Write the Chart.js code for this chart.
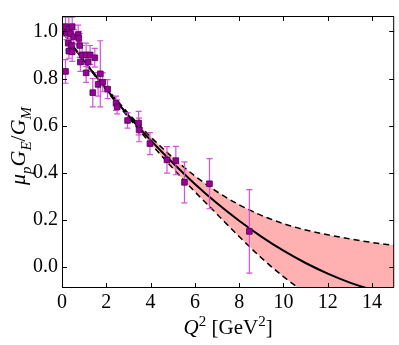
<!DOCTYPE html>
<html>
<head>
<meta charset="utf-8">
<script src="https://cdn.jsdelivr.net/npm/chart.js@4.4.0/dist/chart.umd.min.js"></script>
<style>
html, body { margin: 0; padding: 0; background: #fff; }
</style>
</head>
<body>
<canvas id="graphe" width="399" height="345"></canvas>
<script>
var q2 = [0.16, 0.16, 0.2, 0.28, 0.31, 0.31, 0.38, 0.43, 0.46, 0.46, 0.53, 0.73, 0.76, 0.8, 0.83, 0.91,
          1.09, 1.09, 1.18, 1.27, 1.39, 1.48, 1.63, 1.73, 1.84, 2.06, 2.44, 2.49, 2.96, 3.46, 3.48, 3.97,
          4.74, 5.14, 5.53, 6.66, 8.46];
var ratio = [1.02, 0.83, 0.995, 0.95, 1.01, 0.916, 0.99, 0.94, 1.02, 0.913, 0.977, 0.986, 0.97, 0.94, 0.87, 0.90,
             0.90, 0.824, 0.87, 0.90, 0.74, 0.888, 0.775, 0.82, 0.784, 0.755, 0.695, 0.68, 0.622, 0.611, 0.582, 0.524,
             0.455, 0.452, 0.36, 0.354, 0.152];
var ratioErr = [0.04, 0.05, 0.03, 0.03, 0.05, 0.03, 0.03, 0.03, 0.04, 0.04, 0.03, 0.04, 0.03, 0.05, 0.04, 0.04,
                0.05, 0.04, 0.04, 0.04, 0.06, 0.04, 0.05, 0.14, 0.04, 0.04, 0.03, 0.03, 0.032, 0.05, 0.05, 0.047,
                0.056, 0.06, 0.087, 0.106, 0.177];

// fit curve and its band
var fitQ2 = [0, 1, 2, 3, 4, 5, 6, 7, 8, 9, 10, 11, 12, 13, 14, 15];
var fitCentral = [1.0, 0.874, 0.755, 0.643, 0.539, 0.443, 0.353, 0.271, 0.197, 0.130, 0.070, 0.018, -0.027, -0.065, -0.095, -0.118];
var fitUpper = [1.0, 0.876, 0.76, 0.652, 0.553, 0.465, 0.387, 0.32, 0.265, 0.22, 0.185, 0.158, 0.138, 0.12, 0.105, 0.092];
var fitLower = [1.0, 0.872, 0.75, 0.635, 0.525, 0.42, 0.32, 0.225, 0.13, 0.04, -0.04, -0.11, -0.18, -0.24, -0.3, -0.35];

var xTicks = [0, 2, 4, 6, 8, 10, 12, 14];
var yTicks = [0.0, 0.2, 0.4, 0.6, 0.8, 1.0];

var serif = '"Liberation Serif", "DejaVu Serif", serif';

function pts(xs, ys) {
    var out = [];
    for (var i = 0; i < xs.length; i++) out.push({x: xs[i], y: ys[i]});
    return out;
}

// error bars drawn just under the points
var errorBars = {
    id: 'errorBars',
    beforeDatasetDraw: function(chart, args) {
        if (args.index !== 0) return;
        var ctx = chart.ctx, sx = chart.scales.x, sy = chart.scales.y, a = chart.chartArea;
        ctx.save();
        ctx.beginPath();
        ctx.rect(a.left, a.top, a.right - a.left, a.bottom - a.top);
        ctx.clip();
        ctx.strokeStyle = '#d84fd8';
        ctx.lineWidth = 1.2;
        for (var i = 0; i < q2.length; i++) {
            var x = sx.getPixelForValue(q2[i]);
            var t = sy.getPixelForValue(ratio[i] + ratioErr[i]);
            var b = sy.getPixelForValue(ratio[i] - ratioErr[i]);
            ctx.beginPath();
            ctx.moveTo(x, t); ctx.lineTo(x, b);
            ctx.moveTo(x - 3, t); ctx.lineTo(x + 3, t);
            ctx.moveTo(x - 3, b); ctx.lineTo(x + 3, b);
            ctx.stroke();
        }
        ctx.restore();
    }
};

function drawParts(ctx, parts, size) {
    var w = 0, i;
    for (i = 0; i < parts.length; i++) {
        var p = parts[i];
        ctx.font = (p.it ? 'italic ' : '') + (p.sub || p.sup ? Math.round(size * 0.7) : size) + 'px ' + serif;
        p.w = ctx.measureText(p.t).width;
        w += p.w;
    }
    var x = -w / 2;
    for (i = 0; i < parts.length; i++) {
        var q = parts[i];
        ctx.font = (q.it ? 'italic ' : '') + (q.sub || q.sup ? Math.round(size * 0.7) : size) + 'px ' + serif;
        var dy = q.sub ? size * 0.25 : (q.sup ? -size * 0.4 : 0);
        ctx.fillText(q.t, x, dy);
        x += q.w;
    }
}

// frame, inward ticks and axis titles
var frame = {
    id: 'frame',
    afterDraw: function(chart) {
        var ctx = chart.ctx, sx = chart.scales.x, sy = chart.scales.y, a = chart.chartArea;
        ctx.save();
        ctx.strokeStyle = '#000';
        ctx.lineWidth = 1;
        ctx.strokeRect(a.left + 0.5, a.top + 0.5, a.right - a.left - 1, a.bottom - a.top - 1);
        ctx.beginPath();
        xTicks.forEach(function(v) {
            var x = Math.round(sx.getPixelForValue(v)) + 0.5;
            ctx.moveTo(x, a.bottom); ctx.lineTo(x, a.bottom - 5);
            ctx.moveTo(x, a.top); ctx.lineTo(x, a.top + 5);
        });
        yTicks.forEach(function(v) {
            var y = Math.round(sy.getPixelForValue(v)) + 0.5;
            ctx.moveTo(a.left, y); ctx.lineTo(a.left + 5, y);
            ctx.moveTo(a.right, y); ctx.lineTo(a.right - 5, y);
        });
        ctx.stroke();

        ctx.fillStyle = '#000';
        ctx.textBaseline = 'alphabetic';
        ctx.textAlign = 'left';
        // x title
        ctx.save();
        ctx.translate((a.left + a.right) / 2, 334);
        drawParts(ctx, [
            {t: 'Q', it: true}, {t: '2', sup: true}, {t: ' [GeV'}, {t: '2', sup: true}, {t: ']'}
        ], 21);
        ctx.restore();
        // y title
        ctx.save();
        ctx.translate(25, 146);
        ctx.rotate(-Math.PI / 2);
        drawParts(ctx, [
            {t: 'μ', it: true}, {t: 'p', it: true, sub: true}, {t: 'G', it: true}, {t: 'E', it: true, sub: true},
            {t: '/'}, {t: 'G', it: true}, {t: 'M', it: true, sub: true}
        ], 22);
        ctx.restore();
        ctx.restore();
    }
};

var ctx = document.getElementById('graphe').getContext('2d');
var myChart = new Chart(ctx, {
    type: 'scatter',
    data: {
        datasets: [
            {
                label: 'data',
                data: pts(q2, ratio),
                pointStyle: 'rect',
                pointRadius: 4,
                backgroundColor: '#990099',
                borderColor: '#4a004a',
                borderWidth: 0.8,
                order: 0
            },
            {
                label: 'fit',
                data: pts(fitQ2, fitCentral),
                showLine: true,
                pointRadius: 0,
                borderColor: '#000',
                borderWidth: 2,
                cubicInterpolationMode: 'monotone',
                order: 1
            },
            {
                label: 'upper',
                data: pts(fitQ2, fitUpper),
                showLine: true,
                pointRadius: 0,
                borderColor: '#000',
                borderWidth: 1.5,
                borderDash: [6, 4],
                cubicInterpolationMode: 'monotone',
                fill: {target: 3},
                backgroundColor: 'rgba(255, 150, 150, 0.75)',
                order: 3
            },
            {
                label: 'lower',
                data: pts(fitQ2, fitLower),
                showLine: true,
                pointRadius: 0,
                borderColor: '#000',
                borderWidth: 1.5,
                borderDash: [6, 4],
                cubicInterpolationMode: 'monotone',
                order: 2
            }
        ]
    },
    options: {
        responsive: false,
        animation: false,
        events: [],
        layout: {padding: {left: 0, right: 4, top: 14, bottom: 0}},
        plugins: {legend: {display: false}, tooltip: {enabled: false}},
        scales: {
            x: {
                type: 'linear',
                min: 0,
                max: 15,
                grid: {display: false, drawTicks: false},
                border: {display: false},
                afterBuildTicks: function(s) { s.ticks = xTicks.map(function(v) { return {value: v}; }); },
                afterFit: function(s) { s.height = 57; },
                ticks: {
                    color: '#000',
                    padding: 3,
                    maxRotation: 0,
                    font: {family: serif, size: 20},
                    callback: function(v) { return String(v); }
                }
            },
            y: {
                type: 'linear',
                min: -0.088,
                max: 1.065,
                grid: {display: false, drawTicks: false},
                border: {display: false},
                afterBuildTicks: function(s) { s.ticks = yTicks.map(function(v) { return {value: v}; }); },
                afterFit: function(s) { s.width = 62; },
                ticks: {
                    color: '#000',
                    padding: 4,
                    font: {family: serif, size: 20},
                    callback: function(v) { return v.toFixed(1); }
                }
            }
        }
    },
    plugins: [errorBars, frame]
});
</script>
</body>
</html>
